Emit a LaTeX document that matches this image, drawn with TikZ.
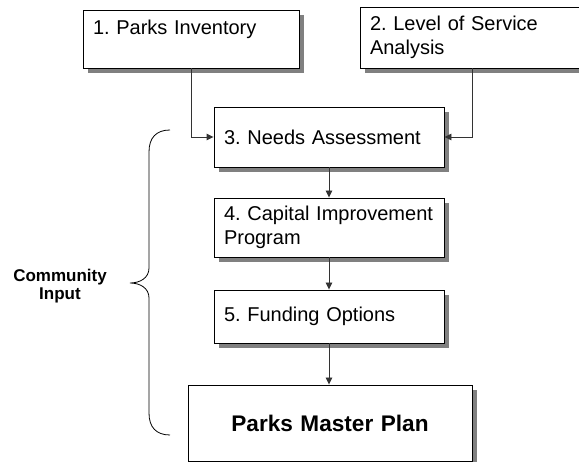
\documentclass[tikz,border=0pt]{standalone}
\usepackage{fontspec}
\setmainfont{Liberation Sans}
\usetikzlibrary{arrows.meta,shadows}

\begin{document}
\frenchspacing
\hyphenpenalty=10000
\begin{tikzpicture}[x=1pt,y=-1pt,
    stepbox/.style={draw=black, line width=0.9pt, fill=white, align=left,
      inner xsep=10pt, inner ysep=0pt, font=\fontsize{20}{23.5}\selectfont,
      drop shadow={shadow xshift=5pt, shadow yshift=-5pt, fill=black!50, opacity=1}},
    flow/.style={draw=black!80, line width=0.9pt, -{Triangle[length=7pt,width=6.5pt]}}]
    \clip (0,0) rectangle (579,462);
    \node[stepbox, text width=196pt, minimum height=58pt] (inv) at (191,39) {1. Parks Inventory\\~};
    \node[stepbox, text width=205pt, minimum height=61pt] (los) at (472.5,37.5) {2. Level of Service\\Analysis};
    \node[stepbox, text width=210pt, minimum height=60pt] (needs) at (329,137) {3. Needs Assessment};
    \node[stepbox, text width=210pt, minimum height=59pt] (cip) at (329,227.5) {4. Capital Improvement\\Program};
    \node[stepbox, text width=210pt, minimum height=53pt] (fund) at (329,316.5) {5. Funding Options};
    \node[stepbox, align=center, text width=264pt, minimum height=76pt,
      font=\bfseries\fontsize{22.6}{26}\selectfont] (plan) at (330,423) {Parks Master Plan};
    \draw[flow] (inv.south) |- (needs.west);
    \draw[flow] (los.south) |- (needs.east);
    \draw[flow] (needs.south) -- (cip.north);
    \draw[flow] (cip.south) -- (fund.north);
    \draw[flow] (fund.south) -- (fund.south |- plan.north);
    \draw[line width=0.8pt] (170,130) .. controls (156,130) and (149,138) .. (149,152) -- (149,268)
      .. controls (149,278) and (140,283) .. (130,283) .. controls (140,283) and (149,288) .. (149,298)
      -- (149,413) .. controls (149,427) and (156,435) .. (170,435);
    \node[font=\bfseries\fontsize{17}{18.5}\selectfont, align=center] (comm) at (60,286) {Community\\Input};
\end{tikzpicture}
\end{document}
